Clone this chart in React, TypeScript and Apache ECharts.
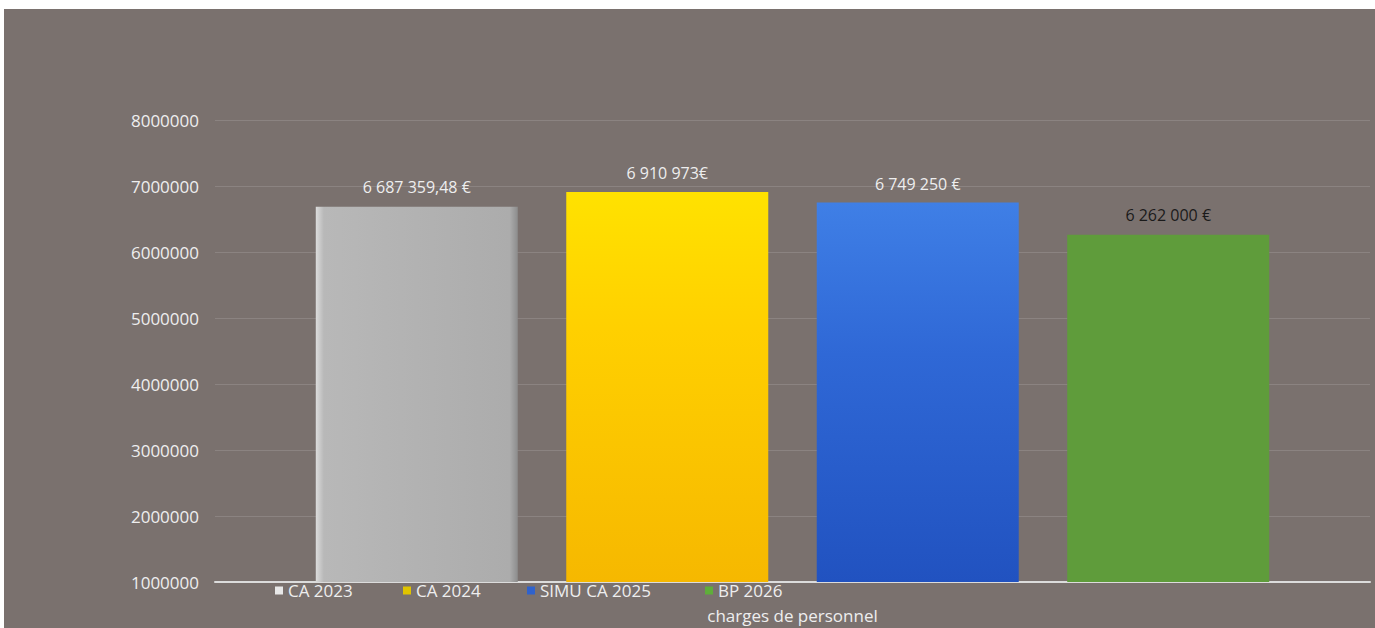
import React, { useEffect, useRef } from "react";
import * as echarts from "echarts";

const categories = ["charges de personnel"];
const seriesNames = ["CA 2023", "CA 2024", "SIMU CA 2025", "BP 2026"];
const seriesValues = [6687359.48, 6910973, 6749250, 6262000];
const valueLabels = ["6 687 359,48 €", "6 910 973€", "6 749 250 €", "6 262 000 €"];
const yTicks = { min: 1000000, max: 8000000, interval: 1000000 };

const FONT = "'Open Sans', 'DejaVu Sans', sans-serif";

const barColors = [
  new echarts.graphic.LinearGradient(0, 0, 1, 0, [
    { offset: 0, color: "#dcdcdc" },
    { offset: 0.04, color: "#b8b8b8" },
    { offset: 0.96, color: "#acacac" },
    { offset: 1, color: "#8c8c8c" },
  ]),
  new echarts.graphic.LinearGradient(0, 0, 0, 1, [
    { offset: 0, color: "#ffe200" },
    { offset: 0.35, color: "#ffd000" },
    { offset: 1, color: "#f6b800" },
  ]),
  new echarts.graphic.LinearGradient(0, 0, 0, 1, [
    { offset: 0, color: "#3f7fe6" },
    { offset: 0.4, color: "#2f68d6" },
    { offset: 1, color: "#2152c0" },
  ]),
  "#5f9c3b",
];
const legendIconColors = ["#e8e8e8", "#e0c400", "#2f62cc", "#5fae3a"];
const labelColors = ["#eeeeee", "#eeeeee", "#eeeeee", "#1a1a1a"];
const labelDistances = [12, 11, 11, 12];
const legendLefts = [271, 399, 523, 701];

export default function App() {
  const ref = useRef<HTMLDivElement>(null);
  useEffect(() => {
    if (!ref.current) return;
    const chart = echarts.init(ref.current, undefined, { renderer: "svg" });
    chart.setOption({
      animation: false,
      backgroundColor: "#7a716e",
      textStyle: { fontFamily: FONT },
      grid: { left: 211, right: 5, top: 111, bottom: 46 },
      legend: seriesNames.map((n, i) => ({
        data: [{ name: n, itemStyle: { color: legendIconColors[i] } }],
        left: legendLefts[i],
        top: 573,
        padding: 0,
        icon: "rect",
        itemWidth: 8,
        itemHeight: 8,
        itemGap: 5,
        textStyle: { color: "#eeeeee", fontSize: 17, lineHeight: 14, fontFamily: FONT },
      })),
      xAxis: {
        type: "category",
        data: categories,
        axisLine: { lineStyle: { color: "#dcdcdc", width: 2 } },
        axisTick: { show: false },
        axisLabel: {
          color: "#eeeeee",
          fontSize: 17,
          lineHeight: 14,
          margin: 26,
          fontFamily: FONT,
        },
      },
      yAxis: {
        type: "value",
        min: yTicks.min,
        max: yTicks.max,
        interval: yTicks.interval,
        axisLine: { show: false },
        axisTick: { show: false },
        axisLabel: {
          color: "#eeeeee",
          fontSize: 17,
          margin: 16,
          fontFamily: FONT,
          formatter: (v: number) => String(v),
        },
        splitLine: { lineStyle: { color: "#8b8381", width: 1 } },
      },
      series: seriesNames.map((n, i) => ({
        name: n,
        type: "bar",
        data: [seriesValues[i]],
        barWidth: 202,
        barGap: "24%",
        itemStyle: { color: barColors[i] },
        label: {
          show: true,
          position: "top",
          distance: labelDistances[i],
          formatter: () => valueLabels[i],
          color: labelColors[i],
          fontSize: 16,
          fontFamily: FONT,
        },
      })),
    });
    return () => chart.dispose();
  }, []);
  return (
    <div style={{ position: "fixed", left: 0, top: 0, width: 1375, height: 628, background: "#ffffff" }}>
      <div ref={ref} style={{ position: "absolute", left: 4, top: 9, width: 1371, height: 619 }} />
    </div>
  );
}
